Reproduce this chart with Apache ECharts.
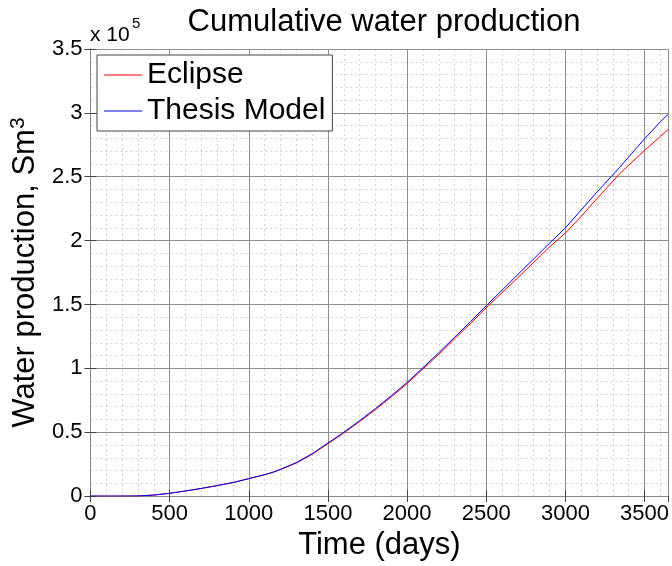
<!DOCTYPE html>
<html><head><meta charset="utf-8">
<script src="https://cdn.jsdelivr.net/npm/echarts@6/dist/echarts.min.js"></script>
<style>html,body{margin:0;padding:0;background:#fff}#c{width:672px;height:566px}</style>
</head><body><div id="c"></div>
<script>
// Time in days
const days = [0,100,200,300,400,500,600,700,800,900,1000,1100,1160,1200,1300,1400,1500,1600,1700,1800,1900,2000,2100,2200,2300,2400,2500,2600,2700,2800,2900,3000,3100,3200,3300,3340,3400,3500,3600,3650];
// Cumulative water production, in units of 1e5 Sm3
const eclipse = [0,0,0,0.001,0.008,0.022,0.04,0.06,0.082,0.106,0.136,0.167,0.189,0.208,0.258,0.327,0.41,0.494,0.583,0.677,0.776,0.88,0.995,1.11,1.23,1.35,1.475,1.592,1.71,1.83,1.95,2.06,2.19,2.33,2.465,2.52,2.59,2.706,2.815,2.87];
const thesis  = [0,0,0,0.001,0.008,0.022,0.04,0.06,0.082,0.106,0.137,0.168,0.19,0.21,0.262,0.332,0.415,0.50,0.59,0.685,0.785,0.89,1.005,1.122,1.243,1.365,1.49,1.612,1.735,1.857,1.98,2.10,2.24,2.38,2.515,2.57,2.655,2.797,2.93,2.99];
const seriesNames = ['Eclipse','Thesis Model'];
const xTicks = {min:0, max:3650, step:500, minor:100};
const yTicks = {min:0, max:3.5, step:0.5, minor:0.1};

const FONT = 'Liberation Sans, Arial, sans-serif';
const chart = echarts.init(document.getElementById('c'));
const majorGrid = {show:true, lineStyle:{color:'#8f8f8f', width:1, type:'solid'}};
const minorGrid = {show:true, lineStyle:{color:'#d2d2d2', width:1, type:[2,3]}};
chart.setOption({
  animation:false,
  backgroundColor:'#fff',
  title:{text:'Cumulative water production', left:379, textAlign:'center', top:2,
    textStyle:{fontFamily:FONT, fontSize:31, fontWeight:'normal', color:'#000'}},
  grid:{left:90, right:3, top:49, bottom:67, containLabel:false},
  legend:{data:seriesNames, orient:'vertical', left:97, top:55, padding:[2,7,2,7],
    icon:'rect', itemWidth:38, itemHeight:1, itemGap:0, backgroundColor:'#fff',
    borderColor:'#444', borderWidth:1,
    textStyle:{fontFamily:FONT, fontSize:30, lineHeight:36, color:'#000'}},
  graphic:[
    {type:'text', left:90, top:25, style:{text:'x 10', font:'21px '+FONT, fill:'#000'}},
    {type:'text', left:132, top:16, style:{text:'5', font:'15px '+FONT, fill:'#000'}}
  ],
  xAxis:[
    {type:'value', min:xTicks.min, max:xTicks.max, interval:xTicks.step, position:'bottom', z:2,
      name:'Time (days)', nameLocation:'middle', nameGap:29,
      nameTextStyle:{fontFamily:FONT, fontSize:31, color:'#000'},
      axisLine:{show:true, lineStyle:{color:'#888'}},
      axisTick:{show:true, inside:true, length:6, lineStyle:{color:'#444'}},
      axisLabel:{fontFamily:FONT, fontSize:22, color:'#000', margin:7, showMaxLabel:false, formatter:v=>String(v)},
      splitLine:majorGrid},
    {type:'value', min:xTicks.min, max:xTicks.max, interval:xTicks.step, position:'top', z:2,
      axisLine:{show:true, lineStyle:{color:'#888'}},
      axisTick:{show:true, inside:true, length:6, lineStyle:{color:'#444'}},
      axisLabel:{show:false}, splitLine:{show:false}},
    {type:'value', min:xTicks.min, max:xTicks.max, interval:xTicks.minor, position:'top', z:0,
      axisLine:{show:false}, axisTick:{show:false}, axisLabel:{show:false}, splitLine:minorGrid}
  ],
  yAxis:[
    {type:'value', min:yTicks.min, max:yTicks.max, interval:yTicks.step, position:'left', z:2,
      name:'Water production, Sm{sup|3}', nameLocation:'middle', nameGap:43,
      nameTextStyle:{fontFamily:FONT, fontSize:31, color:'#000',
        rich:{sup:{fontFamily:FONT, fontSize:21, color:'#000', verticalAlign:'top', padding:[0,0,14,0]}}},
      axisLine:{show:true, lineStyle:{color:'#888'}},
      axisTick:{show:true, inside:true, length:6, lineStyle:{color:'#444'}},
      axisLabel:{fontFamily:FONT, fontSize:22, color:'#000', margin:8, formatter:v=>String(+v.toFixed(1))},
      splitLine:majorGrid},
    {type:'value', min:yTicks.min, max:yTicks.max, interval:yTicks.step, position:'right', z:2,
      axisLine:{show:true, lineStyle:{color:'#888'}},
      axisTick:{show:true, inside:true, length:6, lineStyle:{color:'#444'}},
      axisLabel:{show:false}, splitLine:{show:false}},
    {type:'value', min:yTicks.min, max:yTicks.max, interval:yTicks.minor, position:'left', z:0,
      axisLine:{show:false}, axisTick:{show:false}, axisLabel:{show:false}, splitLine:minorGrid}
  ],
  series:[
    {name:seriesNames[0], type:'line', symbol:'none', xAxisIndex:0, yAxisIndex:0,
      color:'#ff0000', lineStyle:{color:'#ff0000', width:1},
      data:days.map((d,i)=>[d, eclipse[i]])},
    {name:seriesNames[1], type:'line', symbol:'none', xAxisIndex:0, yAxisIndex:0,
      color:'#0000ff', lineStyle:{color:'#0000ff', width:1},
      data:days.map((d,i)=>[d, thesis[i]])}
  ]
});
</script></body></html>
